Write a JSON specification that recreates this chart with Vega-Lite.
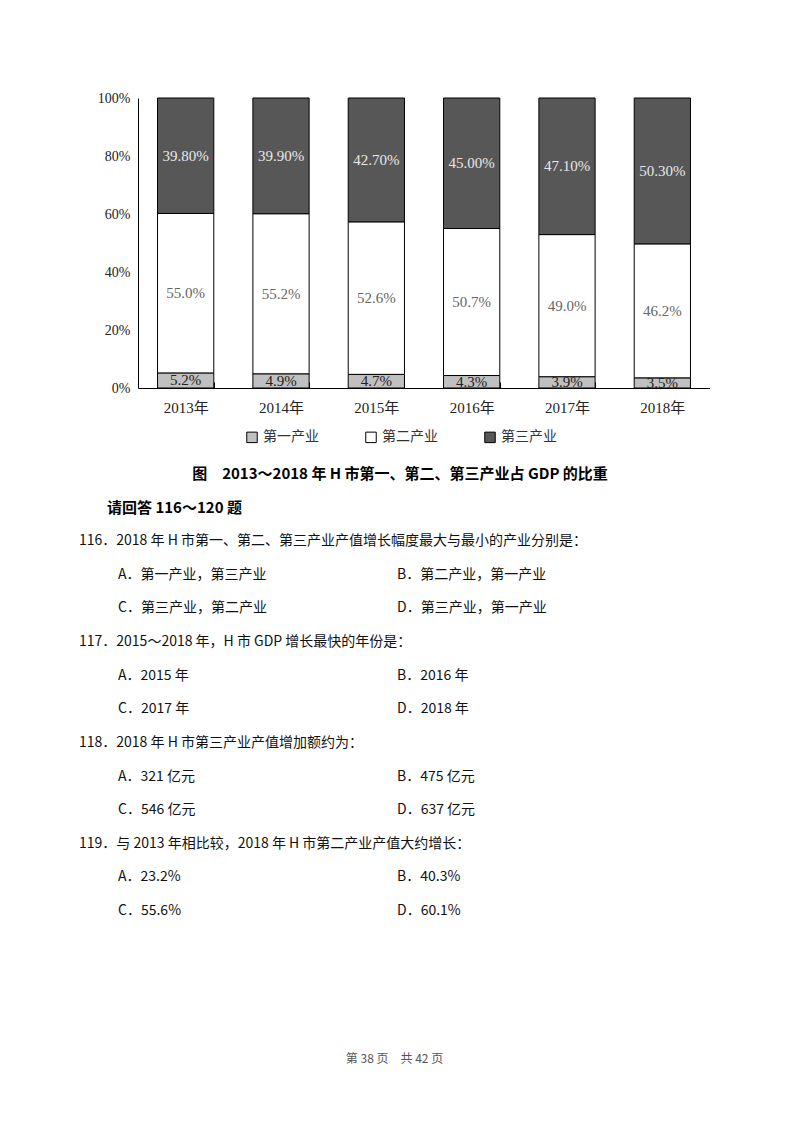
{
  "$schema": "https://vega.github.io/schema/vega-lite/v6.json",
  "padding": {"top": 91, "left": 79, "right": 0, "bottom": 0},
  "background": "white",
  "title": {"text": "第 38 页　共 42 页", "orient": "bottom", "anchor": "middle", "offset": 136, "fontSize": 12, "fontWeight": "normal", "color": "#555", "font": "Noto Sans CJK SC"},
  "spacing": 52,
  "vconcat": [
    {
      "width": 572,
      "height": 290,
      "data": {
        "values": [
          {"year": "2013年", "seg": "第一产业", "idx": 1, "v": 5.2, "label": "5.2%"},
          {"year": "2013年", "seg": "第二产业", "idx": 2, "v": 55.0, "label": "55.0%"},
          {"year": "2013年", "seg": "第三产业", "idx": 3, "v": 39.8, "label": "39.80%"},
          {"year": "2014年", "seg": "第一产业", "idx": 1, "v": 4.9, "label": "4.9%"},
          {"year": "2014年", "seg": "第二产业", "idx": 2, "v": 55.2, "label": "55.2%"},
          {"year": "2014年", "seg": "第三产业", "idx": 3, "v": 39.9, "label": "39.90%"},
          {"year": "2015年", "seg": "第一产业", "idx": 1, "v": 4.7, "label": "4.7%"},
          {"year": "2015年", "seg": "第二产业", "idx": 2, "v": 52.6, "label": "52.6%"},
          {"year": "2015年", "seg": "第三产业", "idx": 3, "v": 42.7, "label": "42.70%"},
          {"year": "2016年", "seg": "第一产业", "idx": 1, "v": 4.3, "label": "4.3%"},
          {"year": "2016年", "seg": "第二产业", "idx": 2, "v": 50.7, "label": "50.7%"},
          {"year": "2016年", "seg": "第三产业", "idx": 3, "v": 45.0, "label": "45.00%"},
          {"year": "2017年", "seg": "第一产业", "idx": 1, "v": 3.9, "label": "3.9%"},
          {"year": "2017年", "seg": "第二产业", "idx": 2, "v": 49.0, "label": "49.0%"},
          {"year": "2017年", "seg": "第三产业", "idx": 3, "v": 47.1, "label": "47.10%"},
          {"year": "2018年", "seg": "第一产业", "idx": 1, "v": 3.5, "label": "3.5%"},
          {"year": "2018年", "seg": "第二产业", "idx": 2, "v": 46.2, "label": "46.2%"},
          {"year": "2018年", "seg": "第三产业", "idx": 3, "v": 50.3, "label": "50.30%"}
        ]
      },
      "transform": [
        {"stack": "v", "groupby": ["year"], "sort": [{"field": "idx"}], "as": ["v0", "v1"]},
        {"calculate": "(datum.v0 + datum.v1) / 2", "as": "mid"}
      ],
      "encoding": {
        "x": {
          "field": "year",
          "type": "nominal",
          "title": null,
          "scale": {"paddingInner": 0.41, "paddingOuter": 0.205},
          "axis": {
            "labelAngle": 0,
            "labelFont": "Liberation Serif, Noto Sans CJK SC",
            "labelFontSize": 15,
            "labelColor": "#222",
            "labelPadding": 18,
            "domainColor": "#000",
            "tickColor": "#000",
            "tickBand": "extent",
            "tickSize": -6
          }
        }
      },
      "layer": [
        {
          "mark": {"type": "bar", "stroke": "#000", "strokeWidth": 1},
          "encoding": {
            "y": {
              "field": "v0",
              "type": "quantitative",
              "title": null,
              "scale": {"domain": [0, 100], "nice": false},
              "axis": {
                "values": [0, 20, 40, 60, 80, 100],
                "labelExpr": "datum.value + '%'",
                "labelFont": "Liberation Serif",
                "labelFontSize": 14,
                "labelColor": "#222",
                "labelPadding": 8,
                "ticks": false,
                "grid": false,
                "domainColor": "#000"
              }
            },
            "y2": {"field": "v1"},
            "color": {
              "field": "seg",
              "type": "nominal",
              "sort": ["第一产业", "第二产业", "第三产业"],
              "scale": {"domain": ["第一产业", "第二产业", "第三产业"], "range": ["#c0c0c0", "#ffffff", "#575757"]},
              "legend": {
                "title": null,
                "orient": "none",
                "direction": "horizontal",
                "legendX": 107,
                "legendY": 332,
                "padding": 0,
                "symbolType": "square",
                "symbolSize": 110,
                "symbolStrokeColor": "#000",
                "symbolStrokeWidth": 1,
                "symbolOpacity": 1,
                "labelFont": "Noto Sans CJK SC",
                "labelFontSize": 14,
                "labelColor": "#333",
                "labelOffset": 4,
                "columnPadding": 44
              }
            }
          }
        },
        {
          "mark": {"type": "text", "font": "Liberation Serif", "fontSize": 15},
          "encoding": {
            "y": {"field": "mid", "type": "quantitative"},
            "text": {"field": "label"},
            "color": {
              "condition": [
                {"test": "datum.idx == 3", "value": "#e8e8e8"},
                {"test": "datum.idx == 2", "value": "#666666"}
              ],
              "value": "#222222"
            }
          }
        }
      ]
    },
    {
      "width": 572,
      "height": 437,
      "data": {
        "values": [
          {"line": 0, "col": 4, "text": "图　2013～2018 年 H 市第一、第二、第三产业占 GDP 的比重"},
          {"line": 1, "col": 1, "text": "请回答 116～120 题"},
          {"line": 2, "col": 0, "text": "116．2018 年 H 市第一、第二、第三产业产值增长幅度最大与最小的产业分别是："},
          {"line": 3, "col": 2, "text": "A．第一产业，第三产业"},
          {"line": 3, "col": 3, "text": "B．第二产业，第一产业"},
          {"line": 4, "col": 2, "text": "C．第三产业，第二产业"},
          {"line": 4, "col": 3, "text": "D．第三产业，第一产业"},
          {"line": 5, "col": 0, "text": "117．2015～2018 年，H 市 GDP 增长最快的年份是："},
          {"line": 6, "col": 2, "text": "A．2015 年"},
          {"line": 6, "col": 3, "text": "B．2016 年"},
          {"line": 7, "col": 2, "text": "C．2017 年"},
          {"line": 7, "col": 3, "text": "D．2018 年"},
          {"line": 8, "col": 0, "text": "118．2018 年 H 市第三产业产值增加额约为："},
          {"line": 9, "col": 2, "text": "A．321 亿元"},
          {"line": 9, "col": 3, "text": "B．475 亿元"},
          {"line": 10, "col": 2, "text": "C．546 亿元"},
          {"line": 10, "col": 3, "text": "D．637 亿元"},
          {"line": 11, "col": 0, "text": "119．与 2013 年相比较，2018 年 H 市第二产业产值大约增长："},
          {"line": 12, "col": 2, "text": "A．23.2%"},
          {"line": 12, "col": 3, "text": "B．40.3%"},
          {"line": 13, "col": 2, "text": "C．55.6%"},
          {"line": 13, "col": 3, "text": "D．60.1%"}
        ]
      },
      "encoding": {
        "x": {
          "field": "col",
          "type": "quantitative",
          "scale": {"domain": [0, 1, 2, 3, 4], "range": [-59, -31, -20, 259, 262]},
          "axis": null
        },
        "y": {
          "field": "line",
          "type": "quantitative",
          "scale": {"domain": [0, 13], "reverse": true, "nice": false, "zero": false},
          "axis": null
        },
        "text": {"field": "text"}
      },
      "layer": [
        {
          "transform": [{"filter": "datum.col == 4"}],
          "mark": {"type": "text", "align": "center", "fontWeight": "bold", "fontSize": 15, "color": "#000", "font": "Noto Sans CJK SC"}
        },
        {
          "transform": [{"filter": "datum.col == 1"}],
          "mark": {"type": "text", "align": "left", "fontWeight": "bold", "fontSize": 15, "color": "#000", "font": "Noto Sans CJK SC"}
        },
        {
          "transform": [{"filter": "datum.col != 1 && datum.col != 4"}],
          "mark": {"type": "text", "align": "left", "fontSize": 14, "color": "#111", "font": "Noto Sans CJK SC"}
        }
      ]
    }
  ],
  "config": {
    "view": {"stroke": null},
    "font": "Noto Sans CJK SC"
  }
}
